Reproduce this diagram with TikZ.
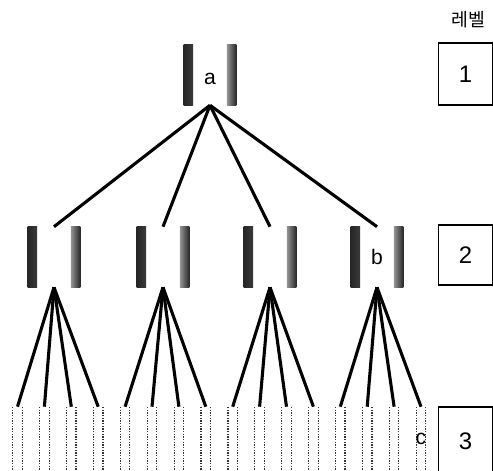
\documentclass[tikz,border=0pt]{standalone}
\usepackage{fontspec}
\setmainfont{Liberation Sans}
\newfontfamily\kr{Noto Sans CJK KR}

% 막대 음영 (가로 방향)
\pgfdeclarehorizontalshading{barleft}{100bp}{color(0bp)=(black); color(25bp)=(black!85); color(100bp)=(gray!40)}
\pgfdeclarehorizontalshading{barright}{100bp}{color(0bp)=(gray!40); color(75bp)=(black!85); color(100bp)=(black)}

\tikzset{
  blk/.style={minimum width=1.32cm, minimum height=1.5cm, inner sep=0pt,
    font=\fontsize{15}{15}\selectfont,
    path picture={
      \shade[shading=barleft]
        (path picture bounding box.north west) rectangle ([xshift=0.24cm]path picture bounding box.south west);
      \shade[shading=barright]
        ([xshift=-0.24cm]path picture bounding box.north east) rectangle (path picture bounding box.south east);
    }},
  leaf/.style={minimum width=0.28cm, minimum height=1.6cm, inner sep=0pt,
    font=\fontsize{15}{15}\selectfont,
    path picture={
      \draw[densely dotted, line width=0.9pt, black!80]
        ([xshift=0.6pt]path picture bounding box.north west) -- ([xshift=0.6pt]path picture bounding box.south west)
        ([xshift=-0.6pt]path picture bounding box.north east) -- ([xshift=-0.6pt]path picture bounding box.south east);
    }},
  lvbox/.style={draw, line width=0.8pt, minimum width=1.33cm, inner sep=0pt,
    font=\fontsize{17}{17}\selectfont},
  link/.style={line width=2.2pt}
}

\begin{document}
\begin{tikzpicture}[x=0.025cm, y=-0.025cm]
                \useasboundingbox (0,0) rectangle (493,471);

                % 루트
                \node[blk] (top) at (210,75) {\raisebox{-7pt}[0pt][0pt]{a}};

                % 레벨 2
                \foreach \i/\x/\t in {1/54/, 2/163/, 3/270/, 4/377/b}
                    \node[blk] (n\i) at (\x,257) {\t};

                % 레벨 3 (잎)
                \foreach \k in {1,...,15}
                    \node[leaf] (l\k) at ({17.5+26.9*(\k-1)},439) {};
                \node[leaf] (l16) at (421,439) {c};

                % 연결선
                \foreach \i in {1,...,4}
                    \draw[link] (top.south) -- (n\i.north);
                \foreach \i in {1,...,4}
                    \foreach \j in {1,...,4} {
                        \pgfmathtruncatemacro{\k}{4*(\i-1)+\j}
                        \draw[link] (n\i.south) -- (l\k.north);
                    }

                % 레벨 표시
                \node[font=\kr\fontsize{13}{13}\selectfont] (title) at (468,20) {레벨};
                \node[lvbox, minimum height=1.55cm] (lv1) at (465.5,74) {1};
                \node[lvbox, minimum height=1.5cm] (lv2) at (465.5,255) {2};
                \node[lvbox, minimum height=1.7cm] (lv3) at (465.5,441) {3};
            \end{tikzpicture}
\end{document}
